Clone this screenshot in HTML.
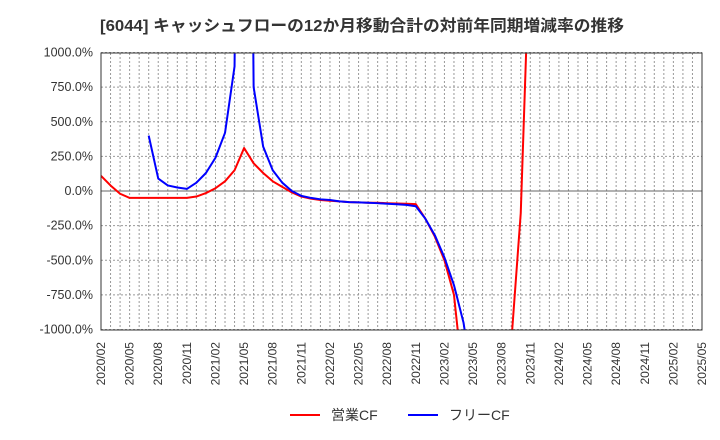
<!DOCTYPE html>
<html><head><meta charset="utf-8"><style>
html,body{margin:0;padding:0;background:#fff;width:720px;height:440px;overflow:hidden;}
svg{display:block;font-family:"Liberation Sans","Noto Sans CJK JP",sans-serif;}
</style></head><body>
<svg id="c" width="720" height="440">
<text x="100" y="31" font-size="16" font-weight="bold" fill="#333" textLength="524" lengthAdjust="spacingAndGlyphs">[6044]  キャッシュフローの12か月移動合計の対前年同期増減率の推移</text>
<defs><clipPath id="pc"><rect x="101" y="53" width="601" height="277"/></clipPath></defs>
<g id="grid"></g>
<g id="ylab"></g>
<g id="xlab"></g>
<g clip-path="url(#pc)" id="lines"></g>
<rect x="101" y="53" width="601" height="277" fill="none" stroke="#333" stroke-width="1"/>
<g>
<line x1="290" y1="415" x2="320" y2="415" stroke="#f00" stroke-width="2"/>
<text x="331" y="420" font-size="14" fill="#333">営業CF</text>
<line x1="408" y1="415" x2="438" y2="415" stroke="#00f" stroke-width="2"/>
<text x="449" y="420" font-size="14" fill="#333">フリーCF</text>
</g>
</svg>
<script>
const startYear=2020, startMonth=2, nMonths=63;
const yTicks=[1000,750,500,250,0,-250,-500,-750,-1000];
const opCF=[110,40,-20,-50,-50,-50,-50,-50,-50,-50,-40,-15,20,70,150,310,200,130,70,30,-10,-40,-55,-65,-70,-75,-80,-82,-85,-85,-88,-90,-92,-95,-200,-330,-500,-750,-1400,-2500,-2500,-2500,-2500,-1100,-160,1900];
const freeCF=[null,null,null,null,null,400,90,40,25,15,60,130,240,420,900,8000,750,320,150,60,0,-35,-50,-60,-65,-75,-80,-82,-85,-88,-92,-96,-100,-110,-200,-320,-480,-680,-950,-1400];
const NS='http://www.w3.org/2000/svg';
const x=i=>101+i*601/nMonths;
const y=v=>191-v*277/2000;
function mk(t,a,p){const e=document.createElementNS(NS,t);for(const k in a)e.setAttribute(k,a[k]);p.appendChild(e);return e;}
const grid=document.getElementById('grid');
for(let i=1;i<nMonths;i++){
 const l=mk('line',{x1:x(i),x2:x(i),y1:53,y2:330,stroke:'#999','stroke-dasharray':'2,2','stroke-width':1},grid);
 
 
}
const yl=document.getElementById('ylab');
yTicks.forEach(v=>{
 const l=mk('line',{x1:101,x2:702,y1:y(v),y2:y(v),stroke:v===0?'#666':'#999','stroke-dasharray':v===0?'':'2,2','stroke-width':1},grid);
 
 
 const t=mk('text',{x:93,y:y(v)+4,'text-anchor':'end','font-size':12.5,fill:'#333'},yl);
 t.textContent=v.toFixed(1)+'%';
 
 
});
const xl=document.getElementById('xlab');
for(let i=0;i<=nMonths;i+=3){
 const m=startMonth-1+i, yr=startYear+Math.floor(m/12), mo=m%12+1;
 const t=mk('text',{transform:`translate(${x(i)+4},342) rotate(-90)`,'text-anchor':'end','font-size':12,fill:'#333'},xl);
 t.textContent=yr+'/'+String(mo).padStart(2,'0');
 
 
}
const lines=document.getElementById('lines');
function path(arr,col,name){
 let d='',pen=false;
 arr.forEach((v,i)=>{if(v===null){pen=false;return;}d+=(pen?'L':'M')+x(i)+','+y(v);pen=true;});
 const p=mk('path',{d:d,fill:'none',stroke:col,'stroke-width':2,'stroke-linejoin':'round'},lines);
 
 
}
path(opCF,'#f00','series-operating-cf');
path(freeCF,'#00f','series-free-cf');
</script>
</body></html>
